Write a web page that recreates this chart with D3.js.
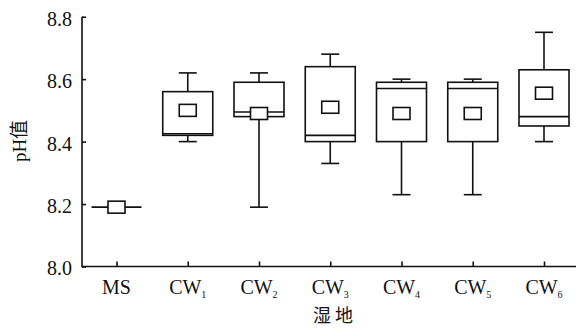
<!DOCTYPE html>
<html>
<head>
<meta charset="utf-8">
<script src="https://cdn.jsdelivr.net/npm/d3@7"></script>
<style>
  body { margin: 0; background: #fff; }
  text { fill: #111; }
</style>
</head>
<body>
<svg id="chart" width="576" height="329"></svg>
<script>
// wetland groups, label base + subscript
let groups = ["MS", "CW1", "CW2", "CW3", "CW4", "CW5", "CW6"];
let labelBase = ["MS", "CW", "CW", "CW", "CW", "CW", "CW"];
let labelSub = ["", "1", "2", "3", "4", "5", "6"];

// box statistics
let whiskerLow = [8.19, 8.40, 8.19, 8.33, 8.23, 8.23, 8.40];
let q1 = [8.19, 8.42, 8.48, 8.40, 8.40, 8.40, 8.45];
let median = [8.19, 8.425, 8.495, 8.42, 8.57, 8.57, 8.48];
let q3 = [8.19, 8.56, 8.59, 8.64, 8.59, 8.59, 8.63];
let whiskerHigh = [8.19, 8.62, 8.62, 8.68, 8.60, 8.60, 8.75];
let meanVal = [8.19, 8.50, 8.49, 8.51, 8.49, 8.49, 8.555];

let yTicks = [8.0, 8.2, 8.4, 8.6, 8.8];

let svg = d3.select("#chart");
let serif = "'Liberation Serif', 'Times New Roman', serif";
let lw = 1.6;

let x = d3.scalePoint().domain(groups).range([116.5, 544]);
let y = d3.scaleLinear().domain([8.0, 8.8]).range([266.5, 16.7]);

let boxW = 50, capW = 18, markW = 17, markH = 12;

// axes
let yAxis = svg.append("g")
  .attr("transform", "translate(82,0)")
  .call(d3.axisLeft(y).tickValues(yTicks).tickFormat(d3.format(".1f"))
    .tickSizeInner(-4).tickSizeOuter(0).tickPadding(10));
yAxis.select(".domain").remove();
yAxis.selectAll("line").attr("stroke", "#111").attr("stroke-width", lw);
yAxis.selectAll("text").attr("font-family", serif).attr("font-size", 20).attr("dy", "0.42em");

svg.append("line").attr("x1", 82).attr("x2", 82).attr("y1", y(8.8)).attr("y2", y(8.0) + lw / 2)
  .attr("stroke", "#111").attr("stroke-width", lw);
svg.append("line").attr("x1", 82).attr("x2", 576).attr("y1", y(8.0)).attr("y2", y(8.0))
  .attr("stroke", "#111").attr("stroke-width", lw);

let xAxis = svg.append("g")
  .attr("transform", "translate(0," + y(8.0) + ")")
  .call(d3.axisBottom(x).tickSizeInner(-5).tickSizeOuter(0).tickFormat(""));
xAxis.select(".domain").remove();
xAxis.selectAll("line").attr("stroke", "#111").attr("stroke-width", lw);

// x labels with subscripts
groups.forEach((g, i) => {
  let t = svg.append("text")
    .attr("x", x(g)).attr("y", 294)
    .attr("text-anchor", "middle")
    .attr("font-family", serif).attr("font-size", 20);
  t.append("tspan").text(labelBase[i]);
  if (labelSub[i]) {
    t.append("tspan").attr("font-size", 10).attr("dy", 4).text(labelSub[i]);
  }
});

// axis titles
svg.append("text")
  .attr("transform", "translate(26,141) rotate(-90)")
  .attr("text-anchor", "middle")
  .attr("font-family", serif + ", 'Noto Sans CJK SC'")
  .attr("font-size", 19)
  .text("pH值");

svg.append("text")
  .attr("x", 333).attr("y", 322)
  .attr("text-anchor", "middle")
  .attr("font-family", "'Noto Sans CJK SC'")
  .attr("font-size", 18)
  .text("湿 地");

// boxes
let boxes = svg.append("g").attr("fill", "none").attr("stroke", "#111").attr("stroke-width", lw);
groups.forEach((g, i) => {
  let cx = x(g);
  let b = boxes.append("g");
  // whiskers
  b.append("line").attr("x1", cx).attr("x2", cx).attr("y1", y(whiskerHigh[i])).attr("y2", y(q3[i]));
  b.append("line").attr("x1", cx).attr("x2", cx).attr("y1", y(q1[i])).attr("y2", y(whiskerLow[i]));
  if (whiskerHigh[i] > q3[i]) {
    b.append("line").attr("x1", cx - capW / 2).attr("x2", cx + capW / 2)
      .attr("y1", y(whiskerHigh[i])).attr("y2", y(whiskerHigh[i]));
  }
  if (whiskerLow[i] < q1[i]) {
    b.append("line").attr("x1", cx - capW / 2).attr("x2", cx + capW / 2)
      .attr("y1", y(whiskerLow[i])).attr("y2", y(whiskerLow[i]));
  }
  // box
  b.append("rect").attr("x", cx - boxW / 2).attr("width", boxW)
    .attr("y", y(q3[i])).attr("height", y(q1[i]) - y(q3[i]));
  b.append("line").attr("x1", cx - boxW / 2).attr("x2", cx + boxW / 2)
    .attr("y1", y(median[i])).attr("y2", y(median[i]));
  // mean marker
  b.append("rect").attr("x", cx - markW / 2).attr("width", markW)
    .attr("y", y(meanVal[i]) - markH / 2).attr("height", markH)
    .attr("fill", "#fff");
});
</script>
</body>
</html>
